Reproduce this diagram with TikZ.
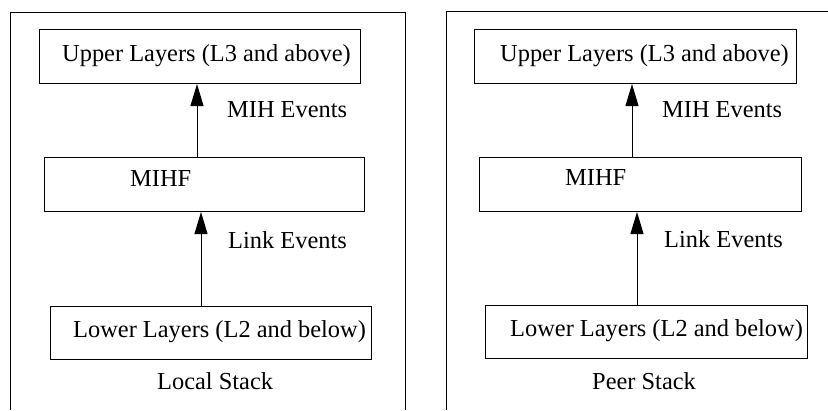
\documentclass[tikz,border=0pt]{standalone}
\usepackage{fontspec}
\setmainfont{Liberation Serif}
\usetikzlibrary{arrows.meta}
\begin{document}
\begin{tikzpicture}[x=1pt,y=-1pt,
  layerbox/.style={draw,line width=1pt,inner sep=0pt,anchor=north west,
    minimum width=#1,minimum height=54pt},
  lbl/.style={anchor=base west,inner sep=0pt,font=\fontsize{24.4}{28}\selectfont},
  frame/.style={line width=1pt},
  evarrow/.style={line width=1pt,-{Triangle[length=22pt,width=13pt]}}]
\useasboundingbox (0,0) rectangle (828,410);

% panel frames
\draw[frame] (10,410) -- (10,12) -- (405,12) -- (405,410);
\draw[frame] (446,410) -- (446,11) -- (828,11);

% local stack
\node[layerbox=321pt] (upL) at (39,29) {};
\node[layerbox=320pt] (mihfL) at (44,157) {};
\node[layerbox=321pt,minimum height=53pt] (lowL) at (50,306) {};
\node[lbl] (upLt) at (62,61) {Upper Layers (L3 and above)};
\node[lbl] (mihfLt) at (130,186) {MIHF};
\node[lbl] (lowLt) at (73,337) {Lower Layers (L2 and below)};
\node[lbl] (mihLt) at (227,117) {MIH Events};
\node[lbl] (linkLt) at (228,248) {Link Events};
\node[lbl] (localt) at (157,389) {Local Stack};
\draw[evarrow] (mihfL.north -| 197,0) -- (upL.south -| 197,0);
\draw[evarrow] (lowL.north -| 201,0) -- (mihfL.south -| 201,0);

% peer stack
\node[layerbox=322pt] (upR) at (474,29) {};
\node[layerbox=322pt] (mihfR) at (479,157) {};
\node[layerbox=322pt,minimum height=53pt] (lowR) at (485,305) {};
\node[lbl] (upRt) at (500,61) {Upper Layers (L3 and above)};
\node[lbl] (mihfRt) at (565,185) {MIHF};
\node[lbl] (lowRt) at (510,336) {Lower Layers (L2 and below)};
\node[lbl] (mihRt) at (662,117) {MIH Events};
\node[lbl] (linkRt) at (664,247) {Link Events};
\node[lbl] (peert) at (592,389) {Peer Stack};
\draw[evarrow] (mihfR.north -| 632,0) -- (upR.south -| 632,0);
\draw[evarrow] (lowR.north -| 637,0) -- (mihfR.south -| 637,0);
\end{tikzpicture}
\end{document}
